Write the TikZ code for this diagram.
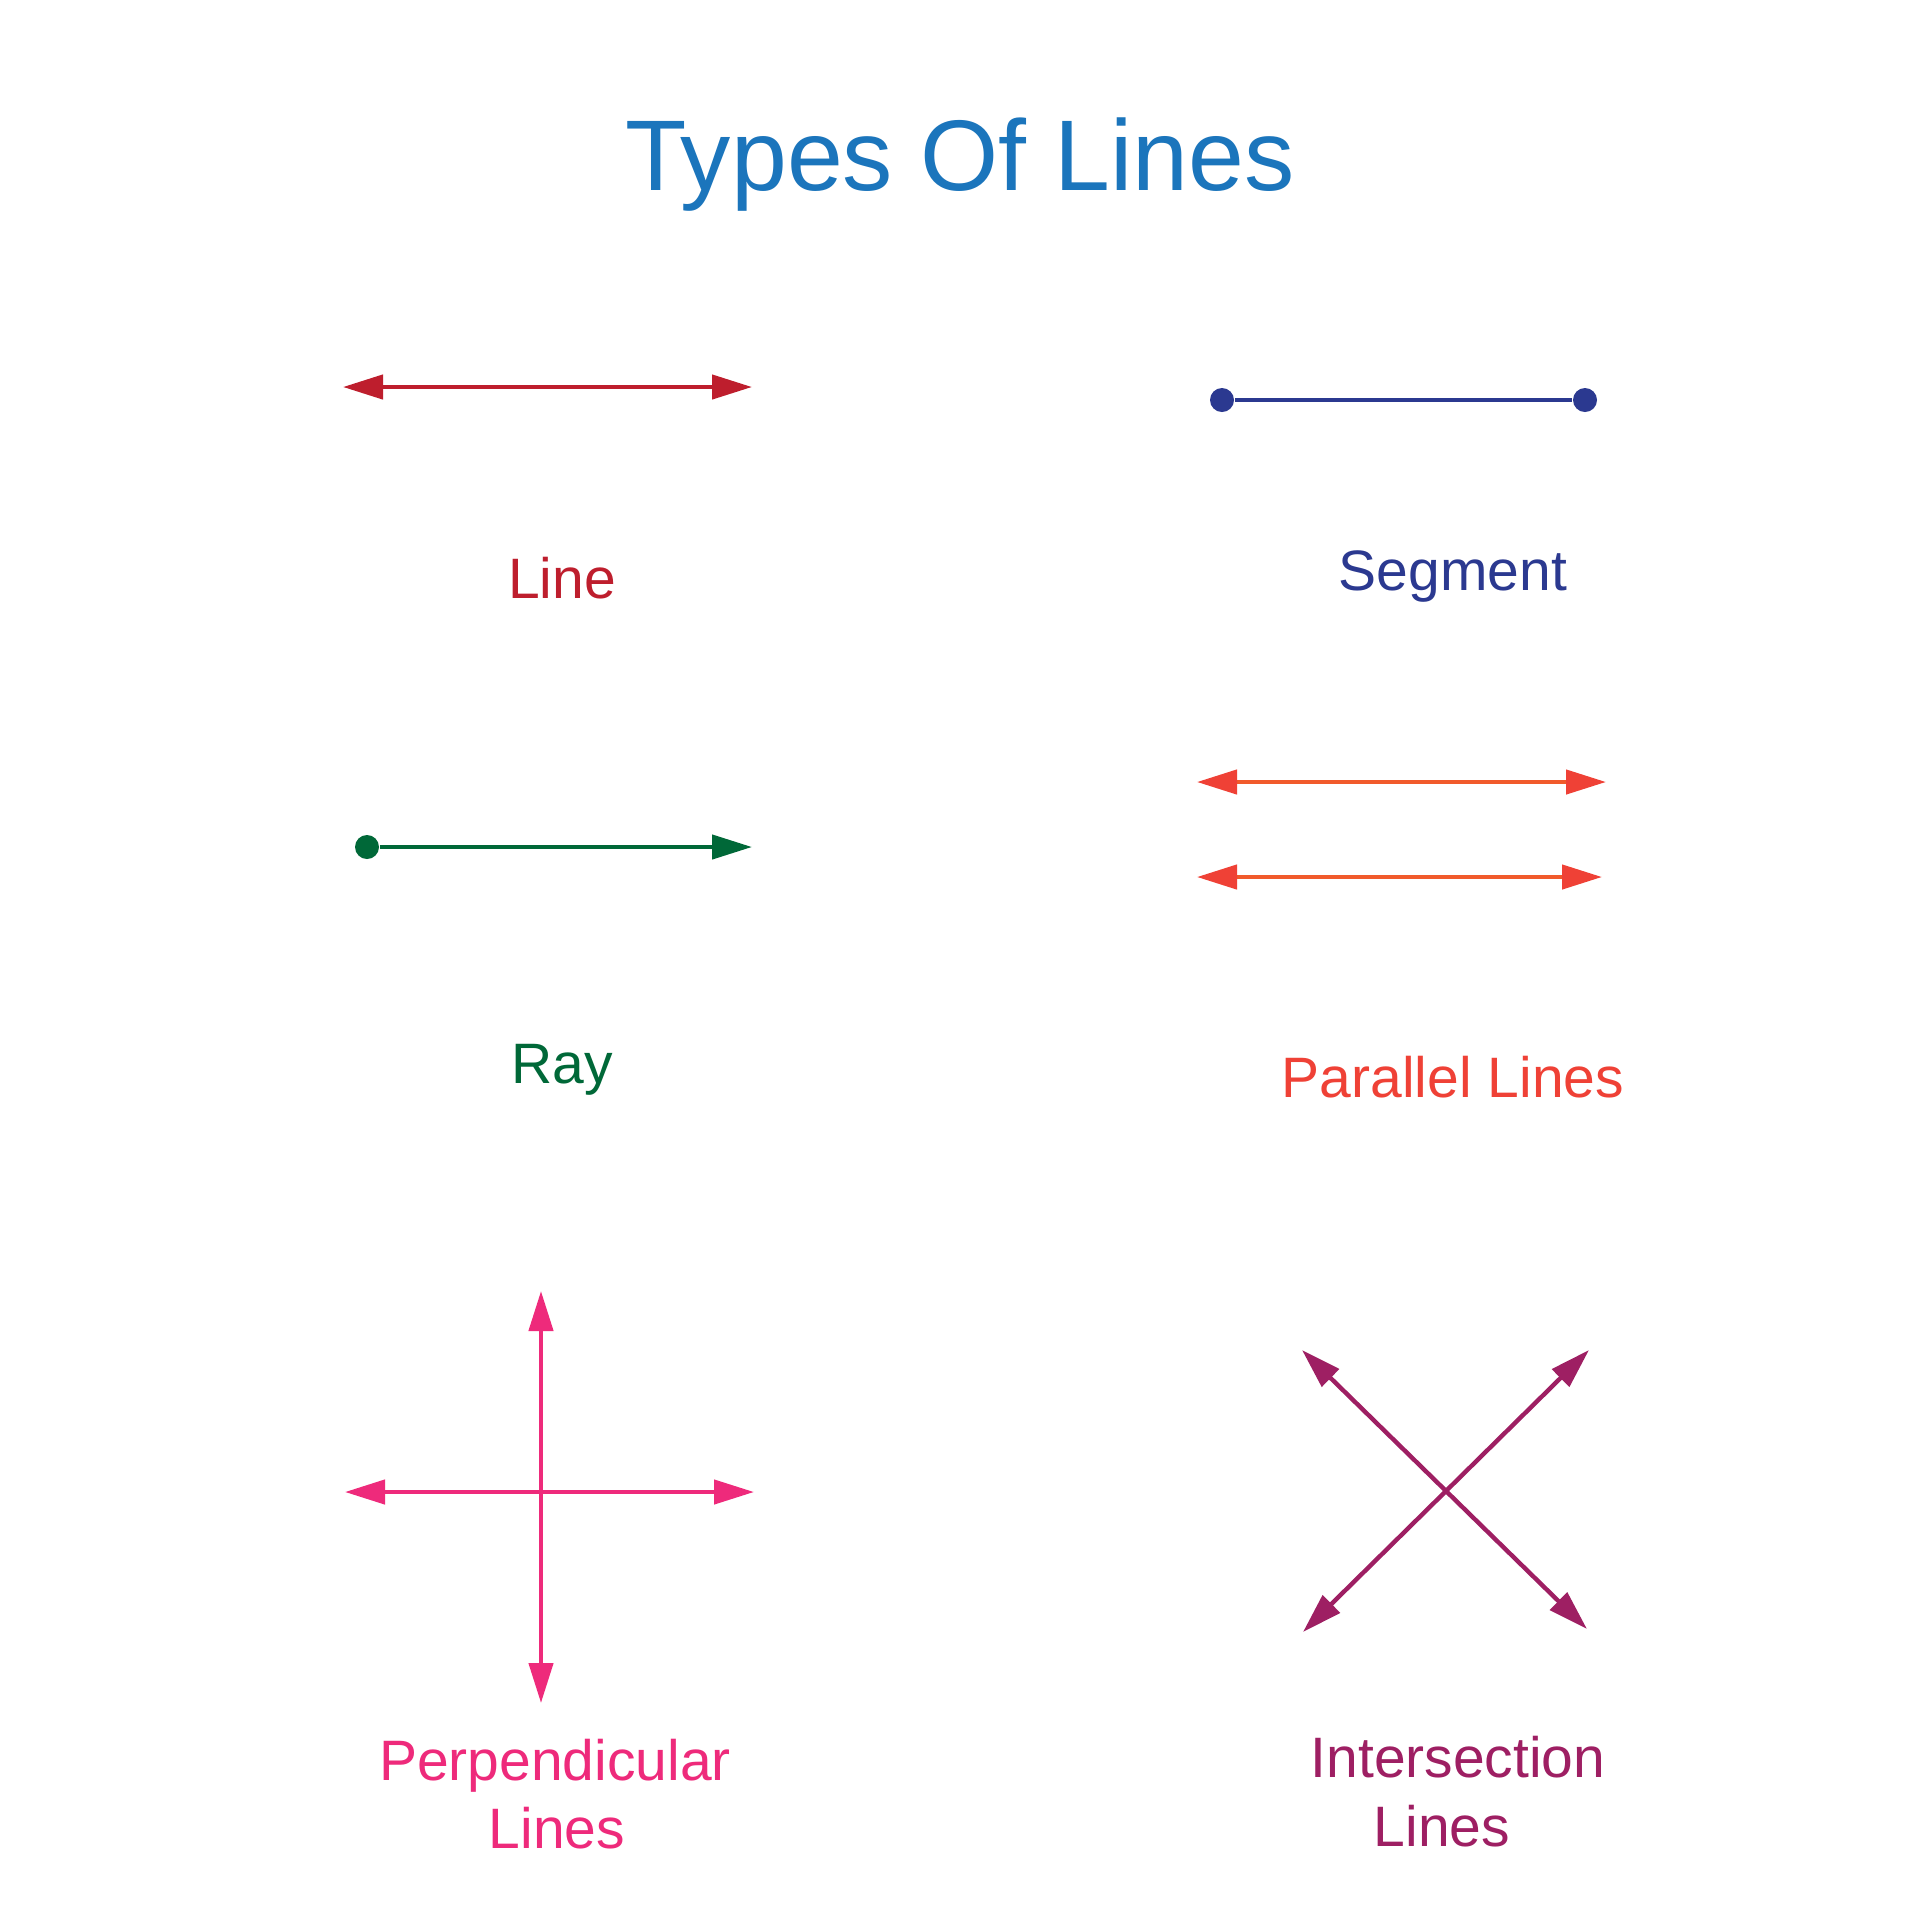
\documentclass[tikz,border=0pt]{standalone}
\usepackage{fontspec}
\setmainfont{Liberation Sans}
\usetikzlibrary{arrows.meta}
\definecolor{ctitle}{HTML}{1B75BC}
\definecolor{cline}{HTML}{BE1E2D}
\definecolor{cseg}{HTML}{2B3990}
\definecolor{cray}{HTML}{006838}
\definecolor{cpar}{HTML}{EF4136}
\definecolor{cparline}{HTML}{F15A2B}
\definecolor{cperp}{HTML}{EE2A7B}
\definecolor{cint}{HTML}{9E1F63}
\begin{document}
\begin{tikzpicture}[x=0.25pt,y=-0.25pt,
  lbl/.style={anchor=base,font=\fontsize{14.25pt}{17pt}\selectfont,inner sep=0pt},
  onetip/.style={-{Triangle[length=10pt,width=6pt]}},
  twotips/.style={{Triangle[length=10pt,width=6pt]}-{Triangle[length=10pt,width=6pt]}},
  ln/.style={line width=1.1pt},
  dot/.style={circle,inner sep=0pt,minimum size=6pt,fill}]
\useasboundingbox (0,0) rectangle (1920,1920);
\fill[white] (0,0) rectangle (1920,1920);
% title
\node[anchor=base,font=\fontsize{25.1pt}{30pt}\selectfont,text=ctitle,inner sep=0pt] (title) at (960,190) {Types Of Lines};
% line
\coordinate (la) at (343,387);
\coordinate (lb) at (752,387);
\draw[ln,twotips,cline] (la) -- (lb);
\node[lbl,text=cline] (llbl) at (562,598) {Line};
% segment
\node[dot,cseg] (sa) at (1222,400) {};
\node[dot,cseg] (sb) at (1585,400) {};
\draw[ln,cseg] (sa) -- (sb);
\node[lbl,text=cseg] (slbl) at (1453,590) {Segment};
% ray
\node[dot,cray] (ra) at (367,847) {};
\coordinate (rb) at (752,847);
\draw[ln,onetip,cray] (ra) -- (rb);
\node[lbl,text=cray] (rlbl) at (562,1083) {Ray};
% parallel
\coordinate (pa1) at (1197,782);
\coordinate (pb1) at (1606,782);
\coordinate (pa2) at (1197,877);
\coordinate (pb2) at (1602,877);
\draw[ln,cparline,{Triangle[length=10pt,width=6pt,color=cpar]}-{Triangle[length=10pt,width=6pt,color=cpar]}] (pa1) -- (pb1);
\draw[ln,cparline,{Triangle[length=10pt,width=6pt,color=cpar]}-{Triangle[length=10pt,width=6pt,color=cpar]}] (pa2) -- (pb2);
\node[lbl,text=cpar] (plbl) at (1453,1097) {Parallel Lines};
% perpendicular
\coordinate (vt) at (541,1291);
\coordinate (vb) at (541,1703);
\coordinate (hl) at (345,1492);
\coordinate (hr) at (754,1492);
\draw[ln,twotips,cperp] (hl) -- (hr);
\draw[ln,twotips,cperp] (vb) -- (vt);
\node[lbl,text=cperp] (qlbl1) at (555,1780) {Perpendicular};
\node[lbl,text=cperp] (qlbl2) at (557,1848) {Lines};
% intersection
\coordinate (nw) at (1302,1350);
\coordinate (se) at (1587,1629);
\coordinate (sw) at (1303,1632);
\coordinate (ne) at (1589,1350);
\draw[ln,twotips,cint] (nw) -- (se);
\draw[ln,twotips,cint] (sw) -- (ne);
\node[lbl,text=cint] (ilbl1) at (1458,1777) {Intersection};
\node[lbl,text=cint] (ilbl2) at (1442,1846) {Lines};
\end{tikzpicture}
\end{document}
